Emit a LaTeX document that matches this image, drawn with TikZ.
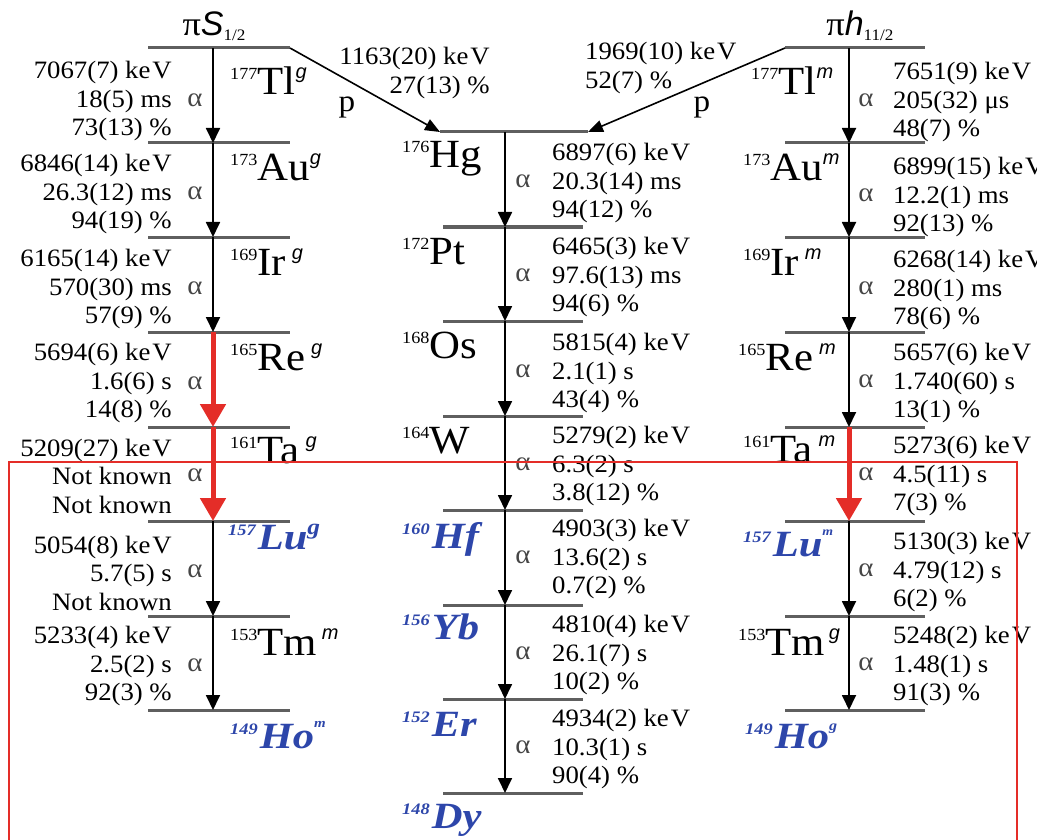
\documentclass[tikz,border=0pt]{standalone}
\usepackage{fontspec}
\setmainfont[FakeStretch=1.07]{Liberation Serif}
\setsansfont{Liberation Sans}
\newfontfamily\bluefont[FakeStretch=1.15]{Liberation Serif}
\usetikzlibrary{arrows.meta}
\definecolor{lvlgray}{RGB}{95,95,95}
\definecolor{nblue}{RGB}{45,70,170}
\definecolor{dred}{RGB}{228,45,40}
\definecolor{agray}{RGB}{70,70,70}
\newcommand\keVu{ke\kern2pt V}
% black nuclide label: [kern]{mass}{element}{state}
\newcommand\nuc[4][0pt]{\raisebox{15pt}{\fontsize{17}{17}\selectfont #2}{\fontsize{40}{42}\selectfont #3}\kern#1\raisebox{16pt}{\fontsize{20}{20}\selectfont\sffamily\itshape #4}}
% blue nuclide label: {mass}{element}{state}{size}{raise}
\newcommand\bnuc[5]{{\color{nblue}\bluefont\bfseries\itshape\raisebox{14pt}{\fontsize{16}{16}\selectfont #1}\kern2pt{\fontsize{37}{40}\selectfont #2}\raisebox{#5}{\fontsize{#4}{#4}\selectfont #3}}}
\begin{document}
\begin{tikzpicture}[x=1pt,y=-1pt,
  lvl/.style={draw=lvlgray,line width=3pt},
  dec/.style={draw=black,line width=1.8pt,-{Triangle[width=14pt,length=15pt]}},
  rdec/.style={draw=dred,line width=5pt,-{Triangle[width=25pt,length=23pt]}},
  pline/.style={draw=black,line width=1.6pt,-{Triangle[width=12pt,length=15pt]}},
  infoR/.style={font=\fontsize{25}{28.5}\selectfont,align=right,anchor=east,inner sep=0pt},
  infoL/.style={font=\fontsize{25}{28.5}\selectfont,align=left,anchor=west,inner sep=0pt},
  alp/.style={font=\fontsize{27}{28}\selectfont,text=agray,inner sep=0pt},
  iso/.style={anchor=base west,inner sep=0pt},
  pp/.style={font=\fontsize{31}{31}\selectfont,inner sep=0pt},
  frame/.style={draw=dred,line width=1.3pt}
]
\useasboundingbox (0,0) rectangle (1037,840);

% ---- level lines and level coordinates
\foreach \i/\y in {1/48,2/143,3/237,4/332,5/427,6/521,7/616,8/710}{
  \draw[lvl] (148,\y) -- (290,\y);
  \draw[lvl] (785,\y) -- (925,\y);
  \coordinate (L\i) at (213,\y);
  \coordinate (R\i) at (849,\y);
}
\draw[lvl] (440,132) -- (588,132);
\foreach \i/\y in {2/227,3/321,4/416,5/510,6/605,7/699,8/793}{
  \draw[lvl] (443,\y) -- (583,\y);
}
\foreach \i/\y in {1/132,2/227,3/321,4/416,5/510,6/605,7/699,8/793}{
  \coordinate (M\i) at (505,\y);
}

% ---- proton decay branches
\coordinate (pL0) at (290,48);
\coordinate (pL1) at (440,132);
\coordinate (pR0) at (785,48);
\coordinate (pR1) at (588,132);
\draw[pline] (pL0) -- (pL1);
\draw[pline] (pR0) -- (pR1);

% ---- alpha decay arrows
\draw[dec] (L1) -- (L2);
\draw[dec] (L2) -- (L3);
\draw[dec] (L3) -- (L4);
\draw[rdec] (L4) -- (L5);
\draw[rdec] (L5) -- (L6);
\draw[dec] (L6) -- (L7);
\draw[dec] (L7) -- (L8);

\draw[dec] (M1) -- (M2);
\draw[dec] (M2) -- (M3);
\draw[dec] (M3) -- (M4);
\draw[dec] (M4) -- (M5);
\draw[dec] (M5) -- (M6);
\draw[dec] (M6) -- (M7);
\draw[dec] (M7) -- (M8);

\draw[dec] (R1) -- (R2);
\draw[dec] (R2) -- (R3);
\draw[dec] (R3) -- (R4);
\draw[dec] (R4) -- (R5);
\draw[rdec] (R5) -- (R6);
\draw[dec] (R6) -- (R7);
\draw[dec] (R7) -- (R8);

% ---- headings
\node[anchor=base,inner sep=0pt] (hs) at (214,36) {\fontsize{34}{34}\selectfont π\textsf{\textit{S}}\raisebox{-5pt}{\fontsize{16}{16}\selectfont 1/2}};
\node[anchor=base,inner sep=0pt] (hh) at (860,36) {\fontsize{34}{34}\selectfont π\textsf{\textit{h}}\raisebox{-5pt}{\fontsize{16}{16}\selectfont 11/2}};

% ---- proton labels
\node[infoR,anchor=north east] (pl) at (490,47) {1163(20) \keVu\\27(13) \%};
\node[infoL,anchor=north west] (pr) at (585,42) {1969(10) \keVu\\52(7) \%};
\node[pp] (ppl) at (347,107) {p};
\node[pp] (ppr) at (702,107) {p};

% ---- left column nuclides
\node[iso] (tlg) at (230,95) {\nuc{177}{Tl}{g}};
\node[iso] (aug) at (230,181) {\nuc{173}{Au}{g}};
\node[iso] (irg) at (230,275) {\nuc[6pt]{169}{Ir}{g}};
\node[iso] (reg) at (230,370) {\nuc[6pt]{165}{Re}{g}};
\node[iso] (tag) at (230,463) {\nuc[6pt]{161}{Ta}{g}};
\node[iso] (lug) at (228,549) {\bnuc{157}{Lu}{g}{22}{15pt}};
\node[iso] (tmm) at (230,655) {\nuc[5pt]{153}{Tm}{m}};
\node[iso] (hom) at (230,748) {\bnuc{149}{Ho}{m}{13}{21pt}};

% ---- middle column nuclides
\node[iso] (hg) at (402,168) {\nuc{176}{Hg}{}};
\node[iso] (pt) at (402,265) {\nuc{172}{Pt}{}};
\node[iso] (os) at (402,358) {\nuc{168}{Os}{}};
\node[iso] (w) at (402,453) {\nuc{164}{W}{}};
\node[iso] (hf) at (402,548) {\bnuc{160}{Hf}{}{13}{0pt}};
\node[iso] (yb) at (402,639) {\bnuc{156}{Yb}{}{13}{0pt}};
\node[iso] (er) at (402,736) {\bnuc{152}{Er}{}{13}{0pt}};
\node[iso] (dy) at (402,828) {\bnuc{148}{Dy}{}{13}{0pt}};

% ---- right column nuclides
\node[iso] (tlm) at (751,95) {\nuc{177}{Tl}{m}};
\node[iso] (aum) at (743,181) {\nuc{173}{Au}{m}};
\node[iso] (irm) at (743,275) {\nuc[6pt]{169}{Ir}{m}};
\node[iso] (rem) at (738,370) {\nuc[6pt]{165}{Re}{m}};
\node[iso] (tam) at (743,462) {\nuc[6pt]{161}{Ta}{m}};
\node[iso] (lum) at (743,556) {\bnuc{157}{Lu}{m}{12}{21pt}};
\node[iso] (tmg) at (738,655) {\nuc[4pt]{153}{Tm}{g}};
\node[iso] (hog) at (745,748) {\bnuc{149}{Ho}{g}{14}{18pt}};

% ---- left decay data
\node[infoR] (li1) at (172,101) {7067(7) \keVu\\18(5) ms\\73(13) \%};
\node[infoR] (li2) at (172,194) {6846(14) \keVu\\26.3(12) ms\\94(19) \%};
\node[infoR] (li3) at (172,289) {6165(14) \keVu\\570(30) ms\\57(9) \%};
\node[infoR] (li4) at (172,383) {5694(6) \keVu\\1.6(6) s\\14(8) \%};
\node[infoR] (li5) at (172,476) {5209(27) \keVu\\Not known\\Not known};
\node[infoR] (li6) at (172,573) {5054(8) \keVu\\5.7(5) s\\Not known};
\node[infoR] (li7) at (172,666) {5233(4) \keVu\\2.5(2) s\\92(3) \%};
\foreach \n/\y in {1/100,2/193,3/288,4/383,5/475,6/571,7/665}{
  \node[alp] (la\n) at (195,\y) {α};
}

% ---- middle decay data
\node[infoL] (mi1) at (552,183) {6897(6) \keVu\\20.3(14) ms\\94(12) \%};
\node[infoL] (mi2) at (552,277) {6465(3) \keVu\\97.6(13) ms\\94(6) \%};
\node[infoL] (mi3) at (552,373) {5815(4) \keVu\\2.1(1) s\\43(4) \%};
\node[infoL] (mi4) at (552,466) {5279(2) \keVu\\6.3(2) s\\3.8(12) \%};
\node[infoL] (mi5) at (552,559) {4903(3) \keVu\\13.6(2) s\\0.7(2) \%};
\node[infoL] (mi6) at (552,655) {4810(4) \keVu\\26.1(7) s\\10(2) \%};
\node[infoL] (mi7) at (552,749) {4934(2) \keVu\\10.3(1) s\\90(4) \%};
\foreach \n/\y in {1/181,2/275,3/371,4/464,5/557,6/653,7/747}{
  \node[alp] (ma\n) at (523,\y) {α};
}

% ---- right decay data
\node[infoL] (ri1) at (893,102) {7651(9) \keVu\\205(32) μs\\48(7) \%};
\node[infoL] (ri2) at (893,197) {6899(15) \keVu\\12.2(1) ms\\92(13) \%};
\node[infoL] (ri3) at (893,290) {6268(14) \keVu\\280(1) ms\\78(6) \%};
\node[infoL] (ri4) at (893,383) {5657(6) \keVu\\1.740(60) s\\13(1) \%};
\node[infoL] (ri5) at (893,476) {5273(6) \keVu\\4.5(11) s\\7(3) \%};
\node[infoL] (ri6) at (893,572) {5130(3) \keVu\\4.79(12) s\\6(2) \%};
\node[infoL] (ri7) at (893,666) {5248(2) \keVu\\1.48(1) s\\91(3) \%};
\foreach \n/\y in {1/100,2/195,3/288,4/381,5/474,6/570,7/664}{
  \node[alp] (ra\n) at (866,\y) {α};
}

% ---- red frame (open at the bottom)
\coordinate (fA) at (9,845);
\coordinate (fB) at (9,462);
\coordinate (fC) at (1017,462);
\coordinate (fD) at (1017,845);
\draw[frame] (fA) -- (fB) -- (fC) -- (fD);
\end{tikzpicture}
\end{document}
